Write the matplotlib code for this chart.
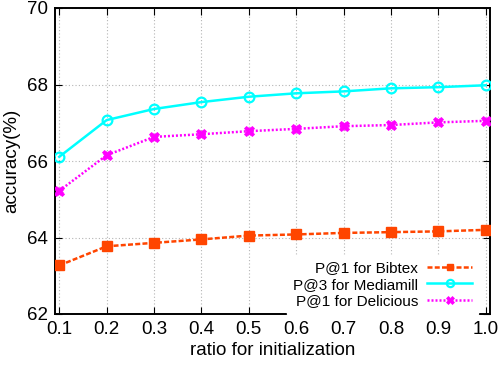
import numpy as np
import matplotlib
matplotlib.use("Agg")
import matplotlib.pyplot as plt

plt.rcParams["font.family"] = ["Liberation Sans", "DejaVu Sans"]

ratio = [0.1, 0.2, 0.3, 0.4, 0.5, 0.6, 0.7, 0.8, 0.9, 1.0]
bibtex = [63.27, 63.77, 63.86, 63.95, 64.05, 64.08, 64.12, 64.14, 64.16, 64.20]
mediamill = [66.11, 67.07, 67.36, 67.54, 67.68, 67.77, 67.82, 67.90, 67.93, 67.98]
delicious = [65.22, 66.15, 66.63, 66.70, 66.78, 66.84, 66.91, 66.94, 67.01, 67.05]

xticks = ["0.1", "0.2", "0.3", "0.4", "0.5", "0.6", "0.7", "0.8", "0.9", "1.0"]
yticks = [62, 64, 66, 68, 70]

fig = plt.figure(figsize=(4.98, 3.67), dpi=100)
ax = fig.add_axes([55/498, 1 - 314/367, 435/498, 306/367])

ax.plot(ratio, bibtex, color="#ff4500", lw=1.8, ls=(0, (2.0, 0.9)), marker="s",
        ms=6.5, label="P@1 for Bibtex", zorder=3)
ax.plot(ratio, mediamill, color="#00ffff", lw=1.8, ls="-", marker="o", ms=7,
        mfc="none", mew=1.6, label="P@3 for Mediamill", zorder=3)
ax.plot(ratio, delicious, color="#ff00ff", lw=1.8, ls=(0, (0.8, 0.8)), marker="X",
        ms=7.5, mew=0.5, label="P@1 for Delicious", zorder=3)

ax.set_xlim(0.091, 1.009)
ax.set_ylim(62, 70)
ax.set_xticks(ratio)
ax.set_xticklabels(xticks)
ax.set_yticks(yticks)
ax.tick_params(direction="in", top=True, right=True, labelsize=13.5, length=5, pad=5)
ax.grid(True, color="#b4b4b4", ls=(0, (1, 2)), lw=0.8)
for s in ax.spines.values():
    s.set_linewidth(1.4)

ax.set_xlabel("ratio for initialization", fontsize=13.5, labelpad=3)
ax.set_ylabel("accuracy(%)", fontsize=13.5, labelpad=5)

leg = ax.legend(loc="lower right", bbox_to_anchor=(0.972, 0.0), markerfirst=False,
                frameon=True, fontsize=11, framealpha=1, edgecolor="white",
                fancybox=False, handlelength=2.9, borderaxespad=0,
                labelspacing=0.15, handletextpad=0.6, markerscale=0.75)

fig.savefig("out.png")
